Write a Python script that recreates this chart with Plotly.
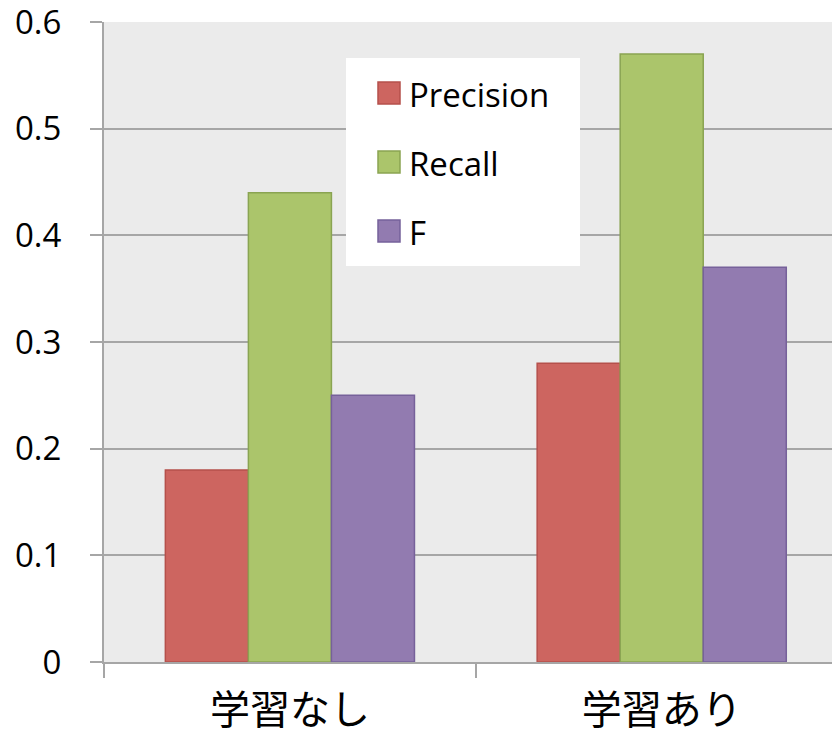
import plotly.graph_objects as go

categories = ["学習なし", "学習あり"]
series_names = ["Precision", "Recall", "F"]
precision = [0.18, 0.28]
recall = [0.44, 0.57]
f_score = [0.25, 0.37]
y_ticks = [0, 0.1, 0.2, 0.3, 0.4, 0.5, 0.6]
y_tick_labels = ["0", "0.1", "0.2", "0.3", "0.4", "0.5", "0.6"]

fills = ["#CD6560", "#ABC56B", "#927BB0"]
edges = ["#B5504B", "#8AA452", "#76619A"]

W, H = 832, 739
L, R, T, B = 104, 0, 22, 77
PW, PH = W - L - R, H - T - B


def px(xp):
    return (xp - L) / PW


def py(yp):
    return (H - B - yp) / PH


fig = go.Figure()
for i, (name, vals) in enumerate(zip(series_names, [precision, recall, f_score])):
    fig.add_trace(go.Bar(
        x=categories, y=vals, name=name,
        marker=dict(color=fills[i], line=dict(color=edges[i], width=1.5)),
        showlegend=False,
    ))

font_family = "Open Sans, Liberation Sans, sans-serif"

# legend drawn as box + swatches + text
shapes = [dict(type="rect", xref="paper", yref="paper",
               x0=px(346), x1=px(580), y0=py(266), y1=py(58),
               fillcolor="white", line=dict(width=0), layer="above")]
annotations = []
row_tops = [82, 151, 220]
for i, name in enumerate(series_names):
    top = row_tops[i]
    shapes.append(dict(type="rect", xref="paper", yref="paper",
                       x0=px(378), x1=px(400), y0=py(top + 22), y1=py(top),
                       fillcolor=fills[i], line=dict(color=edges[i], width=1.5),
                       layer="above"))
    annotations.append(dict(xref="paper", yref="paper", x=px(407), y=py(top + 12),
                            xanchor="left", yanchor="middle", showarrow=False,
                            text=name, font=dict(size=33, family=font_family, color="black")))

fig.update_layout(
    width=W, height=H,
    margin=dict(l=L, r=R, t=T, b=B, autoexpand=False),
    paper_bgcolor="white",
    plot_bgcolor="#EBEBEB",
    barmode="group",
    bargap=0.33,
    bargroupgap=0,
    font=dict(family=font_family, size=28, color="black"),
    showlegend=False,
    shapes=shapes,
    annotations=annotations,
    xaxis=dict(
        type="category",
        range=[-0.5, 1.458],
        automargin=False,
        tickson="boundaries",
        ticks="outside", ticklen=14, tickwidth=2, tickcolor="#A6A6A6",
        showgrid=False,
        showline=True, linecolor="#A6A6A6", linewidth=2,
        tickfont=dict(family="Noto Sans CJK JP", size=40),
        ticklabelstandoff=12,
    ),
    yaxis=dict(
        range=[0, 0.6],
        automargin=False,
        ticklabeloverflow="allow",
        tickvals=y_ticks, ticktext=y_tick_labels,
        ticks="outside", ticklen=12, tickwidth=2, tickcolor="#A6A6A6",
        showgrid=True, gridcolor="#A6A6A6", gridwidth=2,
        showline=True, linecolor="#A6A6A6", linewidth=2,
        zeroline=False,
        tickfont=dict(size=33, family=font_family),
        ticklabelstandoff=22,
    ),
)

fig.write_html("out.html")
